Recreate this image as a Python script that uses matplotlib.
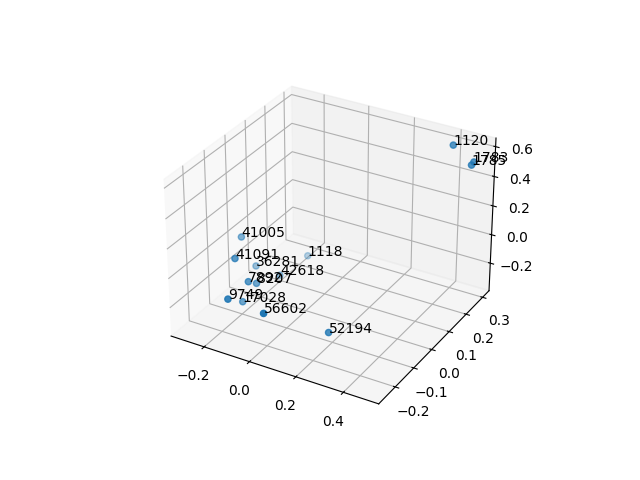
import matplotlib
matplotlib.use('Agg')
import matplotlib.pyplot as plt

labels = ['1120', '1783', '1785', '41005', '41091', '36281', '1118', '42618',
          '7892', '8207', '17028', '9749', '56602', '52194']
xs = [0.397, 0.489, 0.487, -0.292, -0.214, -0.26, -0.147, -0.168,
      -0.149, -0.161, -0.186, -0.137, 0.030, 0.187]
ys = [0.30, 0.295, 0.284, 0.005, -0.113, 0.04, 0.184, 0.059,
      -0.121, -0.068, -0.111, -0.234, -0.247, -0.104]
zs = [0.59, 0.52, 0.51, -0.02, 0.0, -0.25, -0.29, -0.295,
      -0.12, -0.20, -0.29, -0.10, -0.10, -0.33]

fig = plt.figure()
ax = fig.add_subplot(projection='3d')
ax.scatter(xs, ys, zs)
for x, y, z, name in zip(xs, ys, zs, labels):
    ax.text(x, y, z, name)

plt.savefig('out.png')
